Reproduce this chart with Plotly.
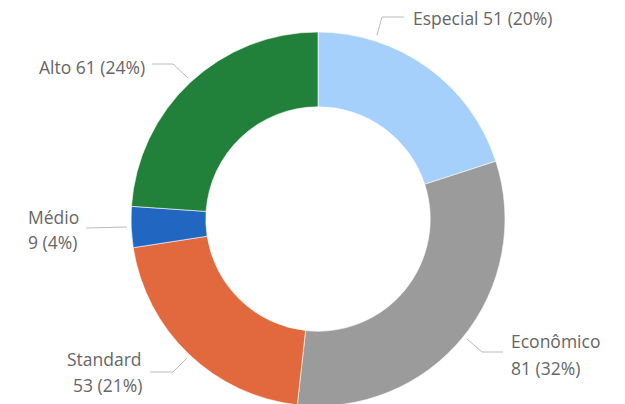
import plotly.graph_objects as go

categories = ["Especial", "Econômico", "Standard", "Médio", "Alto"]
values = [51, 81, 53, 9, 61]
colors = ["#A6D0FC", "#9B9B9B", "#E2693E", "#2167C2", "#21803A"]

W, H = 625, 410
total = sum(values)
pct = [round(v / total * 100) for v in values]

def px(x):
    return x / W

def py(y):
    return 1 - y / H

# pie geometry (pixels): center (318, 219), radius 187
cx, cy, R = 318, 219, 187

fig = go.Figure(go.Pie(
    labels=categories,
    values=values,
    marker=dict(colors=colors, line=dict(color="white", width=0.6)),
    hole=0.6,
    sort=False,
    direction="clockwise",
    rotation=0,
    textinfo="none",
    hoverinfo="label+value+percent",
    domain=dict(x=[px(cx - R), px(cx + R)], y=[py(cy + R), py(cy - R)]),
    showlegend=False,
))

# label layout: (lines, anchor, x, y-list)
label_layout = {
    "Especial": dict(lines=1, anchor="left", x=411, ys=[18]),
    "Econômico": dict(lines=2, anchor="left", x=509, ys=[341, 368]),
    "Standard": dict(lines=2, anchor="right", x=144, ys=[359, 385]),
    "Médio": dict(lines=2, anchor="left", x=26, ys=[217, 242]),
    "Alto": dict(lines=1, anchor="right", x=147, ys=[67]),
}
leader_paths = {
    "Especial": [(377, 35), (382, 17), (404, 17)],
    "Econômico": [(467, 339), (482, 352), (503, 352)],
    "Standard": [(150, 372), (173, 372), (187, 358)],
    "Médio": [(86, 228), (127, 227)],
    "Alto": [(152, 64), (173, 64), (188, 78)],
}

font = dict(family="Segoe UI, Open Sans, sans-serif", size=17.5, color="#666666")
annotations = []
shapes = []
for cat, v, p in zip(categories, values, pct):
    lay = label_layout[cat]
    if lay["lines"] == 1:
        texts = [f"{cat} {v} ({p}%)"]
    else:
        texts = [cat, f"{v} ({p}%)"]
    for t, y in zip(texts, lay["ys"]):
        annotations.append(dict(
            text=t, x=px(lay["x"]), y=py(y), xref="paper", yref="paper",
            xanchor=lay["anchor"], yanchor="middle", showarrow=False, font=font,
        ))
    pts = leader_paths[cat]
    path = "M " + " L ".join(f"{px(a):.5f},{py(b):.5f}" for a, b in pts)
    shapes.append(dict(type="path", path=path, xref="paper", yref="paper",
                       line=dict(color="#BBBBBB", width=1)))

fig.update_layout(
    width=W, height=H,
    margin=dict(l=0, r=0, t=0, b=0),
    paper_bgcolor="white",
    plot_bgcolor="white",
    annotations=annotations,
    shapes=shapes,
)

fig.write_html(
    "out.html",
    config={"displayModeBar": False},
    post_script="document.body.style.overflow='hidden';document.body.style.margin='0';",
)
